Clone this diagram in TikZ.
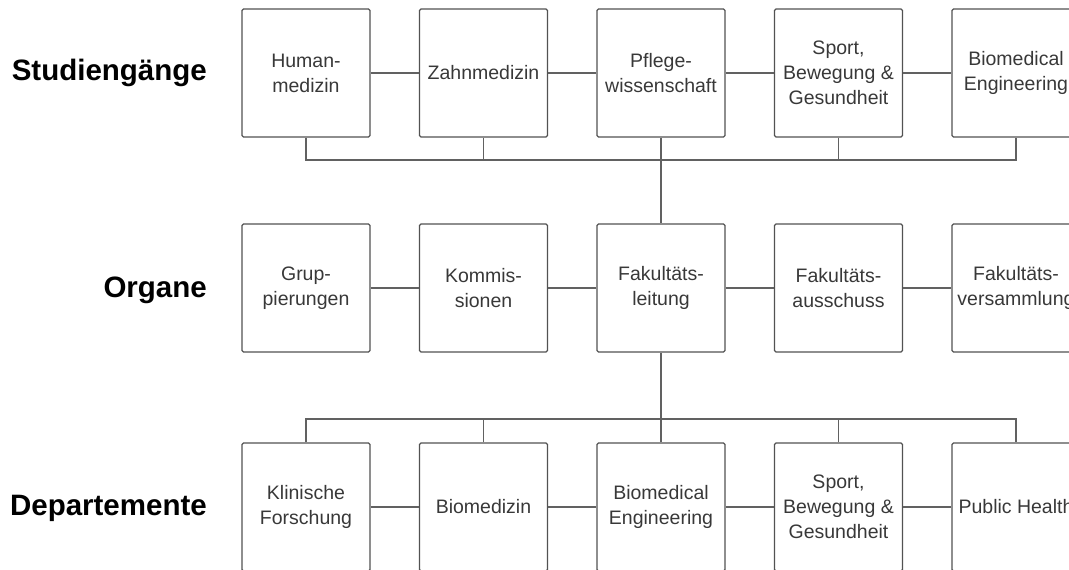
\documentclass[tikz,border=0pt]{standalone}
\usepackage{fontspec}
\setmainfont{Liberation Sans}
\begin{document}
\begin{tikzpicture}[x=1pt,y=-1pt,
  box/.style={draw=black!68,line width=1.3pt,rounded corners=1.5pt,minimum width=128pt,minimum height=128pt,inner sep=0pt,align=center,font=\fontsize{19.5}{25}\selectfont,text=black!78},
  conn/.style={draw=black!62,line width=1.3pt},
  rowlabel/.style={anchor=east,inner sep=0pt,font=\fontsize{29.5}{34}\selectfont\bfseries,text=black}]
\useasboundingbox (0,0) rectangle (1069,570);
\clip (0,0) rectangle (1069,570);
% row labels
\node[rowlabel] (l1) at (207,73) {Studiengänge};
\node[rowlabel] (l2) at (207,290) {Organe};
\node[rowlabel] (l3) at (207,508) {Departemente};
% top row
\node[box] (s1) at (306,73) {Human-\\medizin};
\node[box] (s2) at (483.5,73) {Zahnmedizin};
\node[box] (s3) at (661,73) {Pflege-\\wissenschaft};
\node[box] (s4) at (838.5,73) {Sport,\\Bewegung \&\\Gesundheit};
\node[box] (s5) at (1016,73) {Biomedical\\Engineering};
% middle row
\node[box] (o1) at (306,288) {Grup-\\pierungen};
\node[box] (o2) at (483.5,288) {Kommis-\\sionen};
\node[box] (o3) at (661,288) {Fakultäts-\\leitung};
\node[box] (o4) at (838.5,288) {Fakultäts-\\ausschuss};
\node[box] (o5) at (1016,288) {Fakultäts-\\versammlung};
% bottom row
\node[box] (d1) at (306,507) {Klinische\\Forschung};
\node[box] (d2) at (483.5,507) {Biomedizin};
\node[box] (d3) at (661,507) {Biomedical\\Engineering};
\node[box] (d4) at (838.5,507) {Sport,\\Bewegung \&\\Gesundheit};
\node[box] (d5) at (1016,507) {Public Health};
% horizontal neighbours
\foreach \r in {s,o,d}{
  \draw[conn] (\r1) -- (\r2);
  \draw[conn] (\r2) -- (\r3);
  \draw[conn] (\r3) -- (\r4);
  \draw[conn] (\r4) -- (\r5);
}
% top bus
\coordinate (tb) at (0,160);
\draw[conn] (s1.south) |- (tb -| s5.south) -- (s5.south);
\draw[conn] (s2.south) -- (tb -| s2.south);
\draw[conn] (s4.south) -- (tb -| s4.south);
\draw[conn] (s3.south) -- (o3.north);
% bottom bus
\coordinate (bb) at (0,419);
\draw[conn] (d1.north) |- (bb -| d5.north) -- (d5.north);
\draw[conn] (d2.north) -- (bb -| d2.north);
\draw[conn] (d4.north) -- (bb -| d4.north);
\draw[conn] (o3.south) -- (d3.north);
\end{tikzpicture}
\end{document}
